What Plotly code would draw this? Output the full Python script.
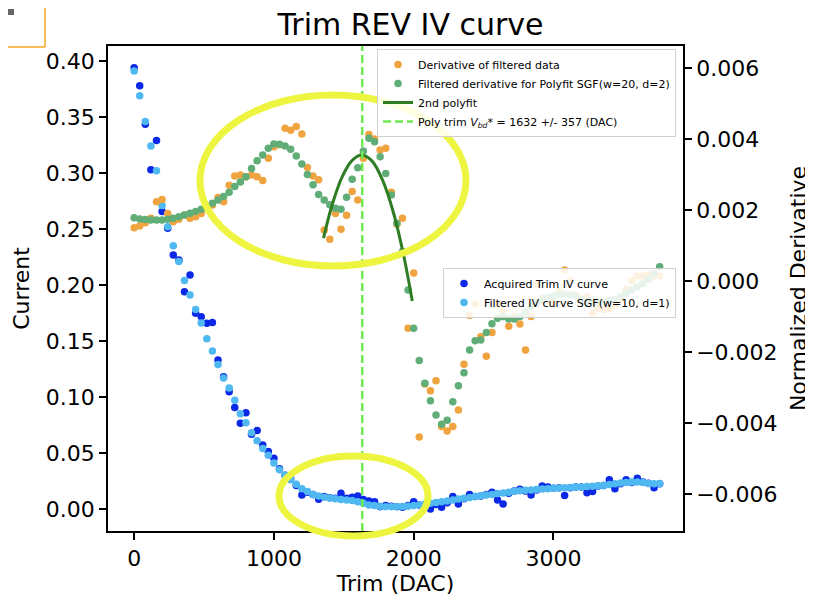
import plotly.graph_objects as go

# ---------------- data ----------------
trim_dac = list(range(0, 3761, 40))  # 95 trim steps

iv_acquired = [
    0.394, 0.378, 0.3435, 0.303, 0.329, 0.2655, 0.2506, 0.2268, 0.2223, 0.194,
    0.2089, 0.1747, 0.1717, 0.1658, 0.1664, 0.133, 0.118, 0.1047, 0.0905, 0.0765,
    0.086, 0.0667, 0.070, 0.0571, 0.0512, 0.0452, 0.036, 0.030, 0.027, 0.021,
    0.0125, 0.015, 0.013, 0.0086, 0.011, 0.010, 0.0095, 0.014, 0.0095, 0.0105,
    0.0116, 0.0085, 0.007, 0.0065, 0.002, 0.003, 0.0025, 0.002, 0.0015, 0.003,
    0.0065, 0.0035, 0.002, 0.0, 0.004, 0.0015, 0.0055, 0.011, 0.0045, 0.009,
    0.013, 0.011, 0.0115, 0.013, 0.015, 0.008, 0.0045, 0.014, 0.016, 0.0175,
    0.016, 0.0125, 0.017, 0.0205, 0.0195, 0.0185, 0.019, 0.012, 0.019, 0.0195,
    0.0195, 0.0145, 0.0155, 0.0205, 0.021, 0.026, 0.018, 0.0225, 0.026, 0.0235,
    0.0274, 0.024, 0.023, 0.019, 0.0225,
]

iv_filtered = [
    0.391, 0.369, 0.346, 0.324, 0.302, 0.271, 0.252, 0.235, 0.221, 0.204,
    0.191, 0.178, 0.166, 0.152, 0.141, 0.129, 0.117, 0.108, 0.097, 0.085,
    0.077, 0.068, 0.061, 0.054, 0.048, 0.041, 0.035, 0.030, 0.026, 0.022,
    0.018, 0.0155, 0.013, 0.0116, 0.0105, 0.0098, 0.009, 0.0085, 0.008, 0.0075,
    0.0065, 0.005, 0.0036, 0.003, 0.0025, 0.002, 0.002, 0.002, 0.0022, 0.0025,
    0.003, 0.0035, 0.0045, 0.005, 0.0058, 0.0065, 0.0072, 0.008, 0.0088, 0.0095,
    0.0103, 0.011, 0.0118, 0.0125, 0.013, 0.0137, 0.0143, 0.015, 0.0157, 0.0163,
    0.0167, 0.017, 0.0173, 0.0177, 0.018, 0.0185, 0.0187, 0.019, 0.0192, 0.0195,
    0.0197, 0.02, 0.0203, 0.0207, 0.021, 0.0218, 0.0225, 0.0232, 0.0237, 0.024,
    0.024, 0.0235, 0.0228, 0.0225, 0.0228,
]

deriv_raw = [
    0.0015, 0.00155, 0.00164, 0.00177, 0.00223, 0.0023, 0.0019, 0.00167, 0.00174, 0.00186,
    0.00177, 0.00181, 0.0019, 0.00205, 0.00214, 0.00235, 0.00223, 0.0027, 0.00296, 0.00299,
    0.00294, 0.00299, 0.00294, 0.00283, 0.00346, 0.00378, 0.00384, 0.0043, 0.00425, 0.00435,
    0.00414, 0.0032, 0.00296, 0.00285, 0.00144, 0.00118, 0.0019, 0.00146, 0.00185, 0.00252,
    0.00228, 0.00346, 0.00413, 0.0040, 0.00369, 0.00374, 0.0025, 0.0016, 0.00177, -0.00133,
    0.00023, -0.00439, -0.0029, -0.00309, -0.00281, -0.0041, -0.00422, -0.0041, -0.00363, -0.00234,
    -0.00096, -0.00065, -0.00157, -0.00212, -0.00145, -0.00067, -0.00086, -0.00127, -0.00099, -0.00121,
    -0.00194, -0.001, -0.00008, -0.00049, -0.00054, -0.00063, -0.00027, 0.00031, 0.00001, -0.00039,
    -0.0005, -0.00044, -0.00091, -0.00077, -0.0008, -0.00077, -0.00068, -0.00054, -0.00023, 0.00001,
    0.00014, 0.00014, 0.00017, 0.00014, 0.00014,
]

deriv_filtered = [
    0.00178, 0.00175, 0.00173, 0.00172, 0.00172, 0.00172, 0.00174, 0.00177, 0.00181, 0.00186,
    0.00191, 0.00196, 0.00202, 0.0021, 0.00219, 0.00228, 0.00238, 0.0025, 0.00266, 0.00279,
    0.00294, 0.00317, 0.00339, 0.00355, 0.00374, 0.00386, 0.00385, 0.0038, 0.00371, 0.00352,
    0.0033, 0.003, 0.00271, 0.00244, 0.00228, 0.00215, 0.00205, 0.00202, 0.00236, 0.00287,
    0.00319, 0.00366, 0.00402, 0.00392, 0.0035, 0.00303, 0.00242, 0.00163, 0.00083, -0.00025,
    -0.00133, -0.00224, -0.00288, -0.00337, -0.00377, -0.00403, -0.00392, -0.0034, -0.00295, -0.00258,
    -0.00194, -0.00168, -0.00166, -0.00145, -0.0012, -0.00105, -0.001, -0.00107, -0.00107, -0.001,
    -0.00088, -0.00072, -0.00063, -0.00054, -0.00046, -0.00042, -0.00038, -0.00037, -0.00039, -0.00044,
    -0.00052, -0.00058, -0.0006, -0.0006, -0.00058, -0.00055, -0.00052, -0.00044, -0.00035, -0.00025,
    -0.00016, -0.00007, 0.00005, 0.00022, 0.0004,
]

polyfit_x = [1355, 1420, 1490, 1560, 1628, 1700, 1780, 1860, 1930, 1990]
polyfit_y = [0.00121, 0.00219, 0.00295, 0.00340, 0.00355, 0.00339, 0.00282, 0.00186, 0.00069, -0.00056]

vbd_value = 1632
vbd_err = 357

x_range = [-187, 3927]
y1_range = [-0.0197, 0.4134]
y2_range = [-0.00704, 0.00662]

# ---------------- styling ----------------
FONT = "DejaVu Sans"
C_ORANGE = "#f0a440"
C_GREEN = "#60ad78"
C_DKGREEN = "#2e7d24"
C_LIME = "#70e850"
C_BLUE = "#0a28e6"
C_LBLUE = "#4fb8f0"
C_YELLOW = "#eef540"

OFF = 8  # page body margin of the browser
W, H = 813 - OFF, 597 - OFF
L, T = 108 - OFF, 46 - OFF
R = W - (683 - OFF)
B = H - (531 - OFF)
PW, PH = W - L - R, H - T - B


def px(xpix):
    return (xpix - OFF - L) / PW


def py(ypix):
    return (H - B - (ypix - OFF)) / PH


fig = go.Figure()

fig.add_trace(go.Scatter(
    x=trim_dac, y=iv_acquired, mode="markers", name="Acquired Trim IV curve",
    marker=dict(color=C_BLUE, size=7.5), legend="legend2", yaxis="y"))
fig.add_trace(go.Scatter(
    x=trim_dac, y=iv_filtered, mode="markers", name="Filtered IV curve SGF(w=10, d=1)",
    marker=dict(color=C_LBLUE, size=7.5), legend="legend2", yaxis="y"))

fig.add_trace(go.Scatter(
    x=trim_dac, y=deriv_raw, mode="markers", name="Derivative of filtered data",
    marker=dict(color=C_ORANGE, size=7.5), legend="legend", yaxis="y2"))
fig.add_trace(go.Scatter(
    x=trim_dac, y=deriv_filtered, mode="markers",
    name="Filtered derivative for Polyfit SGF(w=20, d=2)",
    marker=dict(color=C_GREEN, size=7.5), legend="legend", yaxis="y2"))
fig.add_trace(go.Scatter(
    x=polyfit_x, y=polyfit_y, mode="lines", name="2nd polyfit",
    line=dict(color=C_DKGREEN, width=3, shape="spline"), legend="legend", yaxis="y2"))
fig.add_trace(go.Scatter(
    x=[vbd_value, vbd_value], y=y2_range, mode="lines",
    name=f"Poly trim <i>V</i><sub><i>bd</i></sub>* = {vbd_value} +/- {vbd_err} (DAC)",
    line=dict(color=C_LIME, width=2.5, dash="8px,4px"), legend="legend", yaxis="y2"))

axis_common = dict(
    showline=True, linecolor="black", linewidth=1.5,
    ticks="outside", ticklen=7, tickwidth=1.5, tickcolor="black",
    showgrid=False, zeroline=False, automargin=False,
    tickfont=dict(family=FONT, size=22, color="black"),
)

fig.update_layout(
    width=W, height=H,
    margin=dict(l=L, r=R, t=T, b=B, pad=0, autoexpand=False),
    paper_bgcolor="white", plot_bgcolor="white",
    font=dict(family=FONT, color="black"),
    title=dict(text="Trim REV IV curve", x=px((108 + 683) / 2), xanchor="center",
               y=1 - (24 - OFF) / H, yanchor="middle", automargin=False,
               font=dict(family=FONT, size=30, color="black")),
    xaxis=dict(range=x_range, tick0=0, dtick=1000, mirror=True,
               title=dict(text="Trim (DAC)", font=dict(family=FONT, size=22), standoff=4),
               **axis_common),
    yaxis=dict(range=y1_range, tick0=0, dtick=0.05, tickformat=".2f",
               title=dict(text="Current", font=dict(family=FONT, size=22), standoff=10),
               **axis_common),
    yaxis2=dict(range=y2_range, tick0=0, dtick=0.002, tickformat=".3f",
                overlaying="y", side="right",
                title=dict(text="Normalized Derivative", font=dict(family=FONT, size=22), standoff=14),
                **axis_common),
    legend=dict(x=px(676), xanchor="right", y=py(49), yanchor="top",
                bgcolor="rgba(255,255,255,0.85)", bordercolor="#d0d0d0", borderwidth=1,
                font=dict(family=FONT, size=11, color="black"), tracegroupgap=0),
    legend2=dict(x=px(676), xanchor="right", y=py(268), yanchor="top",
                 bgcolor="rgba(255,255,255,0.85)", bordercolor="#d0d0d0", borderwidth=1,
                 font=dict(family=FONT, size=11, color="black"), tracegroupgap=0),
    showlegend=True,
)

# highlight ellipses and screenshot frame (annotation overlays)
fig.add_shape(type="circle", xref="paper", yref="paper",
              x0=px(200), x1=px(466), y0=py(266), y1=py(95),
              line=dict(color=C_YELLOW, width=7), fillcolor="rgba(0,0,0,0)", layer="above")
fig.add_shape(type="circle", xref="paper", yref="paper",
              x0=px(279), x1=px(428), y0=py(536), y1=py(456),
              line=dict(color=C_YELLOW, width=7), fillcolor="rgba(0,0,0,0)", layer="above")
# orange frame: only its right and bottom edges are inside the picture
fig.add_shape(type="line", xref="paper", yref="paper",
              x0=px(45), x1=px(45), y0=py(47), y1=py(0),
              line=dict(color="#f5a623", width=1.5), layer="above")
fig.add_shape(type="line", xref="paper", yref="paper",
              x0=px(0), x1=px(45), y0=py(47), y1=py(47),
              line=dict(color="#f5a623", width=1.5), layer="above")
fig.add_shape(type="rect", xref="paper", yref="paper",
              x0=px(8), x1=px(14), y0=py(15), y1=py(9),
              line=dict(width=0), fillcolor="#666666", layer="above")

fig.write_html("out.html")
